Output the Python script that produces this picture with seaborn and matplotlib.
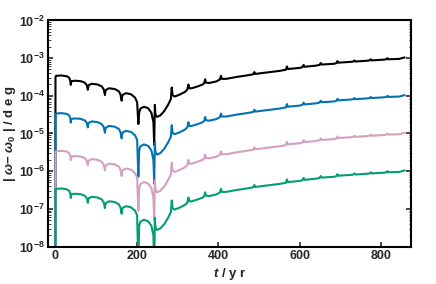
import matplotlib
matplotlib.use("Agg")
import matplotlib.pyplot as plt
import numpy as np
import seaborn as sns
from matplotlib.ticker import LogLocator, NullFormatter, FixedLocator

# time axis (yr), shared by all four curves
t_yr = [0, 0.5, 2, 15, 28, 34, 37, 38, 39, 41, 48, 62, 72, 77, 80, 81, 83, 90,
        104, 114, 119, 122, 123, 125, 132, 146, 156, 160, 163, 164, 166, 174,
        186, 196, 201, 204, 206, 209, 218, 228, 236, 241, 243, 244.5, 246, 250,
        258, 268, 278, 284, 286, 288, 293, 305, 318, 324, 327, 329, 335, 350,
        362, 366, 368, 370, 378, 395, 404, 407, 409, 420, 445, 470, 486, 489,
        491, 520, 550, 566, 569, 571, 600, 607, 610, 612, 640, 649, 652, 654,
        685, 691, 693, 695, 725, 732, 735, 737, 765, 772, 775, 777, 808, 813,
        816, 818, 845, 858]

x_ticks = [0, 200, 400, 600, 800]
y_ticks = [1e-8, 1e-7, 1e-6, 1e-5, 1e-4, 1e-3, 1e-2]

# log10 |omega - omega0|
black_log = [-9, -3.50, -3.47, -3.46, -3.48, -3.52, -3.60, -3.71, -3.64, -3.61,
             -3.60, -3.61, -3.65, -3.71, -3.84, -3.75, -3.71, -3.68, -3.70, -3.75,
             -3.83, -3.98, -3.88, -3.84, -3.80, -3.82, -3.88, -3.96, -4.13, -4.02,
             -3.97, -3.93, -3.96, -4.05, -4.17, -4.75, -4.45, -4.34, -4.29, -4.33,
             -4.45, -4.70, -5.30, -4.24, -4.50, -4.56, -4.52, -4.40, -4.22, -4.08,
             -3.78, -3.98, -4.02, -3.97, -3.90, -3.84, -3.70, -3.80, -3.80, -3.75,
             -3.70, -3.66, -3.56, -3.65, -3.66, -3.62, -3.57, -3.47, -3.55, -3.55,
             -3.50, -3.46, -3.43, -3.37, -3.42, -3.38, -3.34, -3.31, -3.22, -3.29,
             -3.26, -3.24, -3.18, -3.23, -3.20, -3.18, -3.13, -3.17, -3.15, -3.13,
             -3.08, -3.12, -3.10, -3.09, -3.06, -3.09, -3.07, -3.06, -3.03, -3.06,
             -3.04, -3.03, -3.00, -3.03, -3.02, -2.98]

blue_log = [-9, -4.50, -4.47, -4.46, -4.48, -4.52, -4.60, -4.71, -4.64, -4.61,
            -4.60, -4.61, -4.65, -4.71, -4.84, -4.75, -4.71, -4.68, -4.70, -4.75,
            -4.83, -4.98, -4.88, -4.84, -4.80, -4.82, -4.88, -4.96, -5.13, -5.02,
            -4.97, -4.93, -4.96, -5.05, -5.17, -6.15, -5.45, -5.34, -5.29, -5.33,
            -5.45, -5.70, -6.33, -5.24, -5.50, -5.56, -5.52, -5.40, -5.22, -5.08,
            -4.78, -4.98, -5.02, -4.97, -4.90, -4.84, -4.70, -4.80, -4.80, -4.75,
            -4.70, -4.66, -4.56, -4.65, -4.66, -4.62, -4.57, -4.47, -4.55, -4.55,
            -4.50, -4.46, -4.43, -4.37, -4.42, -4.38, -4.34, -4.31, -4.22, -4.29,
            -4.26, -4.24, -4.18, -4.23, -4.20, -4.18, -4.13, -4.17, -4.15, -4.13,
            -4.08, -4.12, -4.10, -4.09, -4.06, -4.09, -4.07, -4.06, -4.03, -4.06,
            -4.04, -4.03, -4.00, -4.03, -4.02, -3.98]

pink_log = [-9, -5.50, -5.47, -5.46, -5.48, -5.52, -5.60, -5.71, -5.64, -5.61,
            -5.60, -5.61, -5.65, -5.71, -5.84, -5.75, -5.71, -5.68, -5.70, -5.75,
            -5.83, -5.98, -5.88, -5.84, -5.80, -5.82, -5.88, -5.96, -6.13, -6.02,
            -5.97, -5.93, -5.96, -6.05, -6.17, -7.05, -6.45, -6.34, -6.29, -6.33,
            -6.45, -6.70, -7.30, -6.24, -6.50, -6.56, -6.52, -6.40, -6.22, -6.08,
            -5.78, -5.98, -6.02, -5.97, -5.90, -5.84, -5.70, -5.80, -5.80, -5.75,
            -5.70, -5.66, -5.56, -5.65, -5.66, -5.62, -5.57, -5.47, -5.55, -5.55,
            -5.50, -5.46, -5.43, -5.37, -5.42, -5.38, -5.34, -5.31, -5.22, -5.29,
            -5.26, -5.24, -5.18, -5.23, -5.20, -5.18, -5.13, -5.17, -5.15, -5.13,
            -5.08, -5.12, -5.10, -5.09, -5.06, -5.09, -5.07, -5.06, -5.03, -5.06,
            -5.04, -5.03, -5.00, -5.03, -5.02, -4.98]

green_log = [-9, -6.50, -6.47, -6.46, -6.48, -6.52, -6.60, -6.71, -6.64, -6.61,
             -6.60, -6.61, -6.65, -6.71, -6.84, -6.75, -6.71, -6.68, -6.70, -6.75,
             -6.83, -6.98, -6.88, -6.84, -6.80, -6.82, -6.88, -6.96, -7.13, -7.02,
             -6.97, -6.93, -6.96, -7.05, -7.17, -8.60, -7.45, -7.34, -7.29, -7.33,
             -7.45, -7.70, -8.60, -7.24, -7.50, -7.56, -7.52, -7.40, -7.22, -7.08,
             -6.78, -6.98, -7.02, -6.97, -6.90, -6.84, -6.70, -6.80, -6.80, -6.75,
             -6.70, -6.66, -6.56, -6.65, -6.66, -6.62, -6.57, -6.47, -6.55, -6.55,
             -6.50, -6.46, -6.43, -6.37, -6.42, -6.38, -6.34, -6.31, -6.22, -6.29,
             -6.26, -6.24, -6.18, -6.23, -6.20, -6.18, -6.13, -6.17, -6.15, -6.13,
             -6.08, -6.12, -6.10, -6.09, -6.06, -6.09, -6.07, -6.06, -6.03, -6.06,
             -6.04, -6.03, -6.00, -6.03, -6.02, -5.98]

curves = [
    (black_log, "black"),
    (blue_log, "#0173B2"),
    (pink_log, "#D4A0C0"),
    (green_log, "#029E73"),
]

sns.set_theme(style="ticks")
plt.rcParams["font.family"] = ["Liberation Sans", "DejaVu Sans"]
plt.rcParams["font.weight"] = "bold"
plt.rcParams["mathtext.fontset"] = "custom"
plt.rcParams["mathtext.rm"] = "Liberation Sans:bold"
plt.rcParams["mathtext.it"] = "Liberation Sans:bold:italic"
plt.rcParams["mathtext.bf"] = "Liberation Sans:bold"

fig = plt.figure(figsize=(4.36, 2.84), dpi=100)
ax = fig.add_axes([0.110, 0.132, 0.833, 0.796])

for values, colour in curves:
    sns.lineplot(x=t_yr, y=10 ** np.array(values), color=colour, linewidth=1.5,
                 estimator=None, sort=False, ax=ax)

ax.set_yscale("log")
ax.set_ylim(1e-8, 1e-2)
ax.set_xlim(-18, 874)
ax.xaxis.set_major_locator(FixedLocator(x_ticks))
ax.yaxis.set_major_locator(FixedLocator(y_ticks))
ax.yaxis.set_minor_locator(LogLocator(base=10, subs=np.arange(2, 10), numticks=10))
ax.yaxis.set_minor_formatter(NullFormatter())

ax.tick_params(axis="both", which="major", direction="in", length=3.5, width=1.2,
               labelsize=9, pad=2.5)
ax.tick_params(axis="y", which="both", right=True, direction="in")
ax.tick_params(axis="y", which="minor", length=1.8, width=0.6)
for spine in ax.spines.values():
    spine.set_linewidth(1.5)
    spine.set_color("black")

ax.set_xlabel(r"$t$ / y r", fontsize=9.5, fontweight="bold", labelpad=3)
ax.set_ylabel(r"| $\omega$$-$ $\omega_0$ | / d e g", fontsize=9.5,
              fontweight="bold", labelpad=0.5)

fig.savefig("out.png", dpi=100)
